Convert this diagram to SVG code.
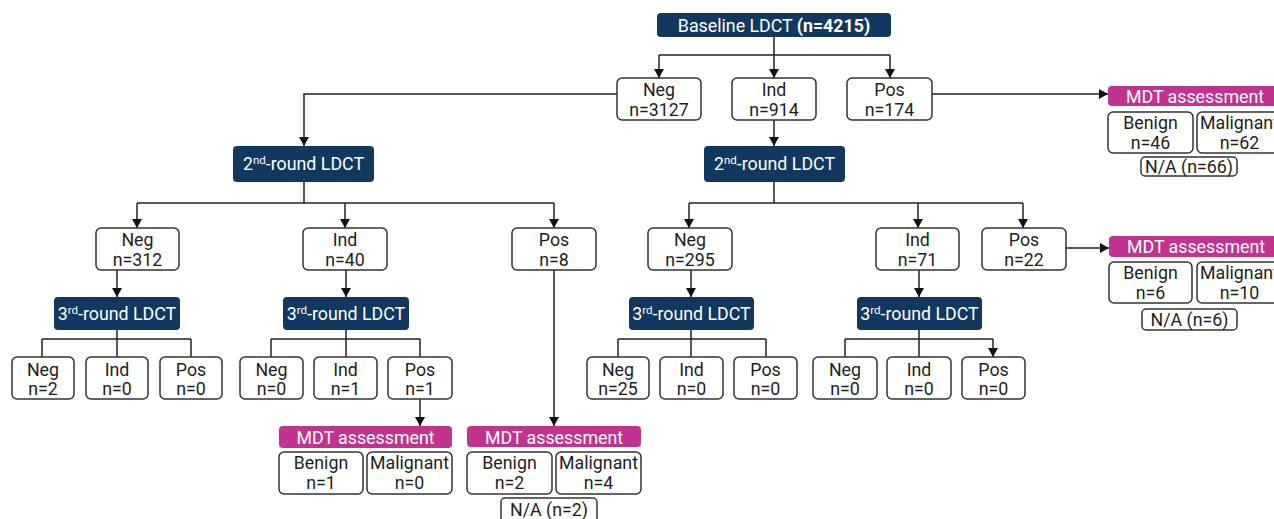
<svg xmlns="http://www.w3.org/2000/svg" width="1274" height="519" viewBox="0 0 1274 519">
<style>
text{font-family:Roboto,"Liberation Sans",sans-serif;font-size:17.8px;fill:#1e1e1e;text-anchor:middle}
.nv{fill:#12385f}
.mg{fill:#c1338f}
.wt{fill:#fff}
.bx{fill:#fff;stroke:#333;stroke-width:1.5}
.cn{fill:none;stroke:#222;stroke-width:1.5}
.sup{font-size:11.5px}
</style>
<defs>
<marker id="ah" markerUnits="userSpaceOnUse" markerWidth="11" markerHeight="11" refX="9" refY="5" orient="auto">
<path d="M0,0 L9,5 L0,10 z" fill="#111"/>
</marker>
</defs>

<g id="connectors">
<path class="cn" d="M774,37 V55 M659,55 H890"/>
<path class="cn" d="M659,55 V78" marker-end="url(#ah)"/>
<path class="cn" d="M774,55 V78" marker-end="url(#ah)"/>
<path class="cn" d="M890,55 V78" marker-end="url(#ah)"/>
<path class="cn" d="M617,94 H304 V146" marker-end="url(#ah)"/>
<path class="cn" d="M932,94 H1108" marker-end="url(#ah)"/>
<path class="cn" d="M774,120 V146" marker-end="url(#ah)"/>
<path class="cn" d="M304,182 V203 M137,203 H554 M689,203 H1023 M774,182 V203"/>
<path class="cn" d="M137,203 V228" marker-end="url(#ah)"/>
<path class="cn" d="M345,203 V228" marker-end="url(#ah)"/>
<path class="cn" d="M554,203 V228" marker-end="url(#ah)"/>
<path class="cn" d="M689,203 V228" marker-end="url(#ah)"/>
<path class="cn" d="M918,203 V228" marker-end="url(#ah)"/>
<path class="cn" d="M1023,203 V228" marker-end="url(#ah)"/>
<path class="cn" d="M1066,248 H1109" marker-end="url(#ah)"/>
<path class="cn" d="M117,270 V297" marker-end="url(#ah)"/>
<path class="cn" d="M346,270 V297" marker-end="url(#ah)"/>
<path class="cn" d="M691,270 V297" marker-end="url(#ah)"/>
<path class="cn" d="M919,270 V297" marker-end="url(#ah)"/>
<path class="cn" d="M554,270 V426" marker-end="url(#ah)"/>
<path class="cn" d="M117,330 V339 M42,339 H191 M346,330 V339 M271,339 H420 M691,330 V339 M618,339 H766 M919,330 V339 M845,339 H993"/>
<path class="cn" d="M42,339 V357 M117,339 V357 M191,339 V357 M271,339 V357 M346,339 V357 M420,339 V357 M618,339 V357 M691,339 V357 M766,339 V357 M845,339 V357 M919,339 V357 M993,339 V357" marker-end="url(#ah)"/>
<path class="cn" d="M420,399 V426" marker-end="url(#ah)"/>
</g>

<g id="baseline"><rect class="nv" x="657" y="13" width="234" height="24" rx="4"/><text class="wt" x="774" y="31.5">Baseline LDCT <tspan class="wt" font-weight="bold">(n=4215)</tspan></text></g>

<g id="l1-neg"><rect class="bx" x="617" y="78" width="84" height="42" rx="5"/><text x="659" y="96">Neg</text><text x="659" y="116">n=3127</text></g>
<g id="l1-ind"><rect class="bx" x="732" y="78" width="84" height="42" rx="5"/><text x="774" y="96">Ind</text><text x="774" y="116">n=914</text></g>
<g id="l1-pos"><rect class="bx" x="847" y="78" width="85" height="42" rx="5"/><text x="889.5" y="96">Pos</text><text x="889.5" y="116">n=174</text></g>

<g id="mdt1"><rect class="mg" x="1108" y="86" width="174" height="20" rx="4"/><text class="wt" x="1195" y="102.5">MDT assessment</text></g>
<g id="mdt1-benign"><rect class="bx" x="1108" y="112" width="85" height="41" rx="5"/><text x="1150.5" y="129">Benign</text><text x="1150.5" y="149">n=46</text></g>
<g id="mdt1-malig"><rect class="bx" x="1197" y="112" width="85" height="41" rx="5"/><text x="1239.5" y="129">Malignant</text><text x="1239.5" y="149">n=62</text></g>
<g id="mdt1-na"><rect class="bx" x="1141" y="157" width="96" height="19" rx="4"/><text x="1189" y="172.5">N/A (n=66)</text></g>

<g id="r2-left"><rect class="nv" x="233" y="146" width="141" height="36" rx="4"/><text class="wt" x="303.5" y="170">2<tspan class="wt sup" dy="-6">nd</tspan><tspan class="wt" dy="6">-round LDCT</tspan></text></g>
<g id="r2-right"><rect class="nv" x="704" y="146" width="141" height="36" rx="4"/><text class="wt" x="774.5" y="170">2<tspan class="wt sup" dy="-6">nd</tspan><tspan class="wt" dy="6">-round LDCT</tspan></text></g>

<g id="l2-neg-a"><rect class="bx" x="96" y="228" width="83" height="42" rx="5"/><text x="137.5" y="246">Neg</text><text x="137.5" y="266">n=312</text></g>
<g id="l2-ind-a"><rect class="bx" x="303" y="228" width="84" height="42" rx="5"/><text x="345" y="246">Ind</text><text x="345" y="266">n=40</text></g>
<g id="l2-pos-a"><rect class="bx" x="512" y="228" width="84" height="42" rx="5"/><text x="554" y="246">Pos</text><text x="554" y="266">n=8</text></g>
<g id="l2-neg-b"><rect class="bx" x="648" y="228" width="84" height="42" rx="5"/><text x="690" y="246">Neg</text><text x="690" y="266">n=295</text></g>
<g id="l2-ind-b"><rect class="bx" x="876" y="228" width="83" height="42" rx="5"/><text x="917.5" y="246">Ind</text><text x="917.5" y="266">n=71</text></g>
<g id="l2-pos-b"><rect class="bx" x="982" y="228" width="84" height="42" rx="5"/><text x="1024" y="246">Pos</text><text x="1024" y="266">n=22</text></g>

<g id="mdt2"><rect class="mg" x="1109" y="236" width="174" height="21" rx="4"/><text class="wt" x="1196" y="253">MDT assessment</text></g>
<g id="mdt2-benign"><rect class="bx" x="1109" y="262" width="83" height="41" rx="5"/><text x="1150.5" y="279">Benign</text><text x="1150.5" y="299">n=6</text></g>
<g id="mdt2-malig"><rect class="bx" x="1197" y="262" width="85" height="41" rx="5"/><text x="1239.5" y="279">Malignant</text><text x="1239.5" y="299">n=10</text></g>
<g id="mdt2-na"><rect class="bx" x="1142" y="309" width="95" height="21" rx="4"/><text x="1189.5" y="325.5">N/A (n=6)</text></g>

<g id="r3-a"><rect class="nv" x="54" y="297" width="126" height="33" rx="4"/><text class="wt" x="117" y="320">3<tspan class="wt sup" dy="-6">rd</tspan><tspan class="wt" dy="6">-round LDCT</tspan></text></g>
<g id="r3-b"><rect class="nv" x="283" y="297" width="126" height="33" rx="4"/><text class="wt" x="346" y="320">3<tspan class="wt sup" dy="-6">rd</tspan><tspan class="wt" dy="6">-round LDCT</tspan></text></g>
<g id="r3-c"><rect class="nv" x="629" y="297" width="125" height="33" rx="4"/><text class="wt" x="691.5" y="320">3<tspan class="wt sup" dy="-6">rd</tspan><tspan class="wt" dy="6">-round LDCT</tspan></text></g>
<g id="r3-d"><rect class="nv" x="857" y="297" width="125" height="33" rx="4"/><text class="wt" x="919.5" y="320">3<tspan class="wt sup" dy="-6">rd</tspan><tspan class="wt" dy="6">-round LDCT</tspan></text></g>

<g id="l3-a-neg"><rect class="bx" x="12" y="357" width="62" height="42" rx="5"/><text x="43" y="376">Neg</text><text x="43" y="395">n=2</text></g>
<g id="l3-a-ind"><rect class="bx" x="86" y="357" width="62" height="42" rx="5"/><text x="117" y="376">Ind</text><text x="117" y="395">n=0</text></g>
<g id="l3-a-pos"><rect class="bx" x="160" y="357" width="62" height="42" rx="5"/><text x="191" y="376">Pos</text><text x="191" y="395">n=0</text></g>
<g id="l3-b-neg"><rect class="bx" x="240" y="357" width="63" height="42" rx="5"/><text x="271.5" y="376">Neg</text><text x="271.5" y="395">n=0</text></g>
<g id="l3-b-ind"><rect class="bx" x="314" y="357" width="63" height="42" rx="5"/><text x="345.5" y="376">Ind</text><text x="345.5" y="395">n=1</text></g>
<g id="l3-b-pos"><rect class="bx" x="388" y="357" width="64" height="42" rx="5"/><text x="420" y="376">Pos</text><text x="420" y="395">n=1</text></g>
<g id="l3-c-neg"><rect class="bx" x="587" y="357" width="62" height="42" rx="5"/><text x="618" y="376">Neg</text><text x="618" y="395">n=25</text></g>
<g id="l3-c-ind"><rect class="bx" x="660" y="357" width="63" height="42" rx="5"/><text x="691.5" y="376">Ind</text><text x="691.5" y="395">n=0</text></g>
<g id="l3-c-pos"><rect class="bx" x="734" y="357" width="63" height="42" rx="5"/><text x="765.5" y="376">Pos</text><text x="765.5" y="395">n=0</text></g>
<g id="l3-d-neg"><rect class="bx" x="813" y="357" width="64" height="42" rx="5"/><text x="845" y="376">Neg</text><text x="845" y="395">n=0</text></g>
<g id="l3-d-ind"><rect class="bx" x="887" y="357" width="64" height="42" rx="5"/><text x="919" y="376">Ind</text><text x="919" y="395">n=0</text></g>
<g id="l3-d-pos"><rect class="bx" x="962" y="357" width="63" height="42" rx="5"/><text x="993.5" y="376">Pos</text><text x="993.5" y="395">n=0</text></g>

<g id="mdt3"><rect class="mg" x="279" y="426" width="173" height="22" rx="4"/><text class="wt" x="365.5" y="443.5">MDT assessment</text></g>
<g id="mdt3-benign"><rect class="bx" x="279" y="452" width="84" height="42" rx="5"/><text x="321" y="469">Benign</text><text x="321" y="489">n=1</text></g>
<g id="mdt3-malig"><rect class="bx" x="367" y="452" width="85" height="42" rx="5"/><text x="409.5" y="469">Malignant</text><text x="409.5" y="489">n=0</text></g>

<g id="mdt4"><rect class="mg" x="467" y="426" width="174" height="21" rx="4"/><text class="wt" x="554" y="443.5">MDT assessment</text></g>
<g id="mdt4-benign"><rect class="bx" x="467" y="452" width="85" height="42" rx="5"/><text x="509.5" y="469">Benign</text><text x="509.5" y="489">n=2</text></g>
<g id="mdt4-malig"><rect class="bx" x="556" y="452" width="85" height="42" rx="5"/><text x="598.5" y="469">Malignant</text><text x="598.5" y="489">n=4</text></g>
<g id="mdt4-na"><rect class="bx" x="501" y="498" width="96" height="24" rx="4"/><text x="549" y="515.5">N/A (n=2)</text></g>
</svg>
